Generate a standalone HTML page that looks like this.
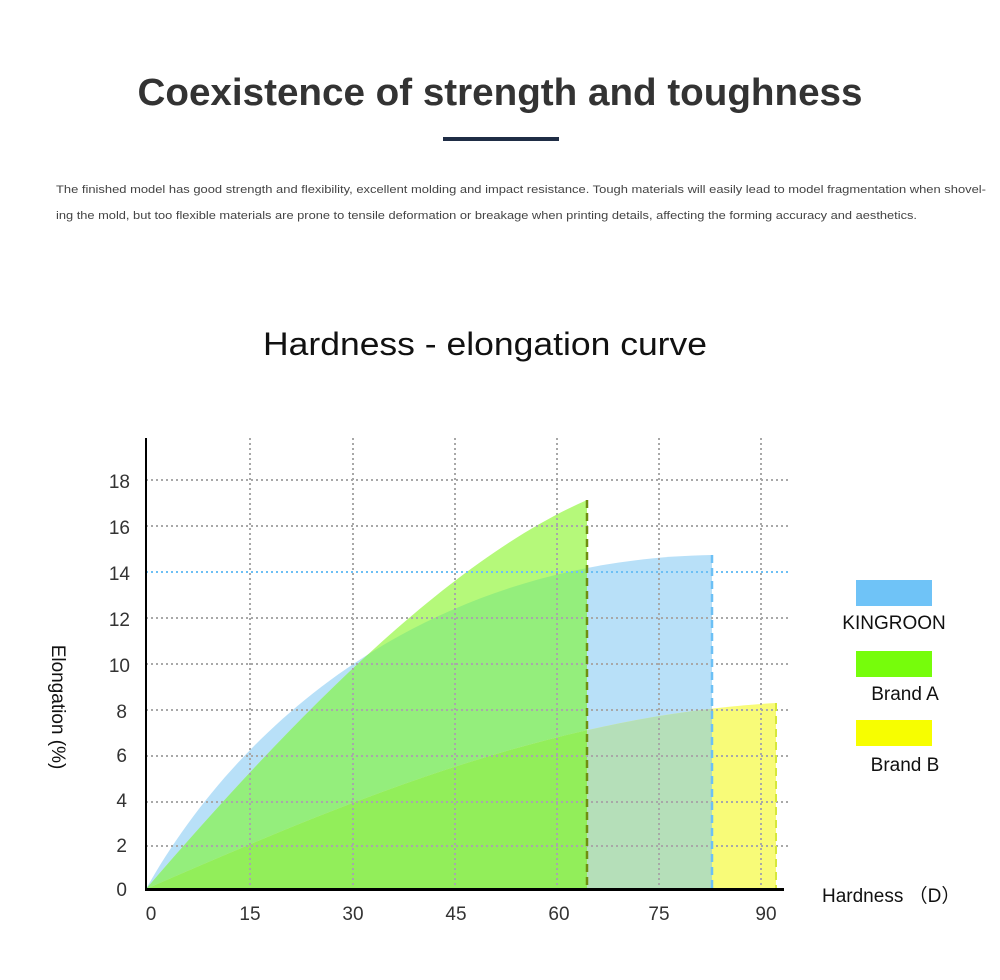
<!DOCTYPE html>
<html><head><meta charset="utf-8"><style>
html,body{margin:0;padding:0;background:#fff;}
svg{display:block;font-family:"Liberation Sans","DejaVu Sans",sans-serif;}
</style></head><body>
<svg width="1000" height="980" viewBox="0 0 1000 980" xmlns="http://www.w3.org/2000/svg">
<defs>
<clipPath id="cb"><path d="M146,889 C235,730 420,560 712,555 L712,889 Z"/></clipPath>
<clipPath id="ca"><path d="M146,889 C300,710 450,560 587,500 L587,889 Z"/></clipPath>
</defs>
<text x="500" y="105" text-anchor="middle" font-size="38" font-weight="bold" fill="#333" textLength="725" lengthAdjust="spacingAndGlyphs">Coexistence of strength and toughness</text>
<rect x="443" y="137" width="116" height="4" fill="#1f2d45"/>
<text x="56" y="193" font-size="11.2" fill="#444" textLength="930" lengthAdjust="spacingAndGlyphs">The finished model has good strength and flexibility, excellent molding and impact resistance. Tough materials will easily lead to model fragmentation when shovel-</text>
<text x="56" y="219" font-size="11.2" fill="#444" textLength="861" lengthAdjust="spacingAndGlyphs">ing the mold, but too flexible materials are prone to tensile deformation or breakage when printing details, affecting the forming accuracy and aesthetics.</text>
<text x="485" y="355" text-anchor="middle" font-size="32" fill="#111" textLength="444" lengthAdjust="spacingAndGlyphs">Hardness - elongation curve</text>

<path d="M146,889 C235,730 420,560 712,555 L712,889 Z" fill="#b8e0f8"/>
<path d="M146,889 C300,710 450,560 587,500 L587,889 Z" fill="#b5f97a"/>
<path d="M146,889 C300,710 450,560 587,500 L587,889 Z" fill="#94ee7c" clip-path="url(#cb)"/>
<path d="M146,889 C350,800 550,716 776,703 L776,889 Z" fill="#f8fb78"/>
<path d="M146,889 C350,800 550,716 776,703 L776,889 Z" fill="#b5dfb9" clip-path="url(#cb)"/>
<path d="M146,889 C350,800 550,716 776,703 L776,889 Z" fill="#92ee5a" clip-path="url(#ca)"/>

<g stroke="#a8a8a8" stroke-width="2" stroke-dasharray="2,3" fill="none">
<line x1="250" y1="438" x2="250" y2="889"/><line x1="353" y1="438" x2="353" y2="889"/>
<line x1="455" y1="438" x2="455" y2="889"/><line x1="557" y1="438" x2="557" y2="889"/>
<line x1="659" y1="438" x2="659" y2="889"/><line x1="761" y1="438" x2="761" y2="889"/>
<line x1="146" y1="480" x2="790" y2="480"/><line x1="146" y1="526" x2="790" y2="526"/>
<line x1="146" y1="618" x2="790" y2="618"/><line x1="146" y1="664" x2="790" y2="664"/>
<line x1="146" y1="710" x2="790" y2="710"/><line x1="146" y1="756" x2="790" y2="756"/>
<line x1="146" y1="802" x2="790" y2="802"/><line x1="146" y1="846" x2="790" y2="846"/>
</g>
<line x1="146" y1="572" x2="790" y2="572" stroke="#6cc0f5" stroke-width="2" stroke-dasharray="2,3"/>
<line x1="587" y1="500" x2="587" y2="889" stroke="#6f8f10" stroke-width="2.5" stroke-dasharray="8,5"/>
<line x1="712" y1="555" x2="712" y2="889" stroke="#6cc0f5" stroke-width="2.5" stroke-dasharray="8,5"/>
<line x1="776" y1="703" x2="776" y2="889" stroke="#d6e83a" stroke-width="2" stroke-dasharray="8,5"/>

<line x1="146" y1="438" x2="146" y2="891" stroke="#000" stroke-width="2"/>
<line x1="145" y1="889.5" x2="784" y2="889.5" stroke="#000" stroke-width="3"/>

<g font-size="19" fill="#333" text-anchor="end">
<text x="130" y="488">18</text><text x="130" y="534">16</text><text x="130" y="580">14</text>
<text x="130" y="626">12</text><text x="130" y="672">10</text><text x="127" y="718">8</text>
<text x="127" y="762">6</text><text x="127" y="807">4</text><text x="127" y="852">2</text><text x="127" y="896">0</text>
</g>
<g font-size="19" fill="#333" text-anchor="middle">
<text x="151" y="920">0</text><text x="250" y="920">15</text><text x="353" y="920">30</text>
<text x="456" y="920">45</text><text x="559" y="920">60</text><text x="659" y="920">75</text><text x="766" y="920">90</text>
</g>
<text transform="translate(52,707) rotate(90)" text-anchor="middle" font-size="19" fill="#111">Elongation (%)</text>
<text x="822" y="902" font-size="19" fill="#111">Hardness （D）</text>

<rect x="856" y="580" width="76" height="26" fill="#6fc3f7"/>
<text x="894" y="629" text-anchor="middle" font-size="19" fill="#111">KINGROON</text>
<rect x="856" y="651" width="76" height="26" fill="#76fd0b"/>
<text x="905" y="700" text-anchor="middle" font-size="19" fill="#111">Brand A</text>
<rect x="856" y="720" width="76" height="26" fill="#f7fe00"/>
<text x="905" y="771" text-anchor="middle" font-size="19" fill="#111">Brand B</text>
</svg>
</body></html>
